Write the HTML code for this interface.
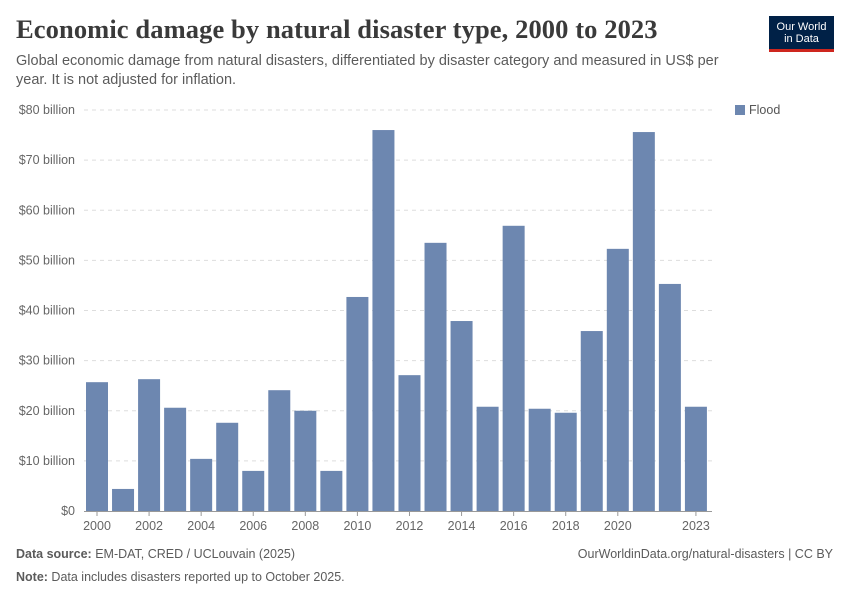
<!DOCTYPE html>
<html><head><meta charset="utf-8"><style>
body{margin:0;background:#fff;width:850px;height:600px;overflow:hidden;font-family:"Liberation Sans",sans-serif;position:relative}
.t{position:absolute;white-space:nowrap}
</style></head><body>
<div class="t" style="left:16px;top:14px;font-family:'Liberation Serif',serif;font-weight:bold;font-size:26.5px;letter-spacing:0.1px;color:#3a3a3a">Economic damage by natural disaster type, 2000 to 2023</div>
<div class="t" style="left:16px;top:52px;font-size:14.5px;line-height:19px;color:#5b5b5b;white-space:normal;width:730px">Global economic damage from natural disasters, differentiated by disaster category and measured in US$ per year. It is not adjusted for inflation.</div>
<div style="position:absolute;left:769px;top:16px;width:65px;height:36px;background:#002147;border-bottom:3px solid #ce261e;box-sizing:border-box;color:#fff;font-size:11px;line-height:12px;text-align:center;padding-top:5px">Our World<br>in Data</div>
<svg id="c" width="850" height="600" style="position:absolute;left:0;top:0"></svg>
<div class="t" style="left:16px;top:547px;font-size:12.5px;color:#5b5b5b"><b>Data source:</b> EM-DAT, CRED / UCLouvain (2025)</div>
<div class="t" style="right:17px;top:547px;font-size:12.5px;color:#5b5b5b">OurWorldinData.org/natural-disasters | CC BY</div>
<div class="t" style="left:16px;top:570px;font-size:12.5px;color:#5b5b5b"><b>Note:</b> Data includes disasters reported up to October 2025.</div>
<script>
const years=[2000,2001,2002,2003,2004,2005,2006,2007,2008,2009,2010,2011,2012,2013,2014,2015,2016,2017,2018,2019,2020,2021,2022,2023];
const flood=[25.7,4.4,26.3,20.6,10.4,17.6,8.0,24.1,20.0,8.0,42.7,76.0,27.1,53.5,37.9,20.8,56.9,20.4,19.6,35.9,52.3,75.6,45.3,20.8];
const yTicks=[0,10,20,30,40,50,60,70,80];
const yLabels=["$0","$10 billion","$20 billion","$30 billion","$40 billion","$50 billion","$60 billion","$70 billion","$80 billion"];
const xTicks=[2000,2002,2004,2006,2008,2010,2012,2014,2016,2018,2020,2023];
const svg=document.getElementById('c');const NS='http://www.w3.org/2000/svg';
const y=v=>511-v*401/80;const x=yr=>97+(yr-2000)*26.04;
function mk(t,a){const e=document.createElementNS(NS,t);for(const k in a)e.setAttribute(k,a[k]);svg.appendChild(e);return e;}
yTicks.forEach((v,i)=>{
 if(v>0){const g=mk('line',{x1:84,x2:712,y1:y(v),y2:y(v),stroke:'#ddd','stroke-dasharray':'4,4'});
 
 }
 const t=mk('text',{x:75,y:y(v)+4,'text-anchor':'end','font-size':12.5,fill:'#666','font-family':'Liberation Sans'});t.textContent=yLabels[i];
 
 
});
years.forEach((yr,i)=>{
 const r=mk('rect',{x:x(yr)-11,y:y(flood[i]),width:22,height:511-y(flood[i]),fill:'#6d87b0'});
 
 
});
const ax=mk('line',{x1:84,x2:712,y1:511.5,y2:511.5,stroke:'#999'});


xTicks.forEach(yr=>{
 mk('line',{x1:x(yr),x2:x(yr),y1:511,y2:516,stroke:'#999'});
 const t=mk('text',{x:x(yr),y:530,'text-anchor':'middle','font-size':12.5,fill:'#666','font-family':'Liberation Sans'});t.textContent=yr;
 
 
});
const lr=mk('rect',{x:735,y:105,width:10,height:10,fill:'#6d87b0'});


const lt=mk('text',{x:749,y:114,'font-size':12.5,fill:'#555','font-family':'Liberation Sans'});lt.textContent='Flood';


</script>
</body></html>
